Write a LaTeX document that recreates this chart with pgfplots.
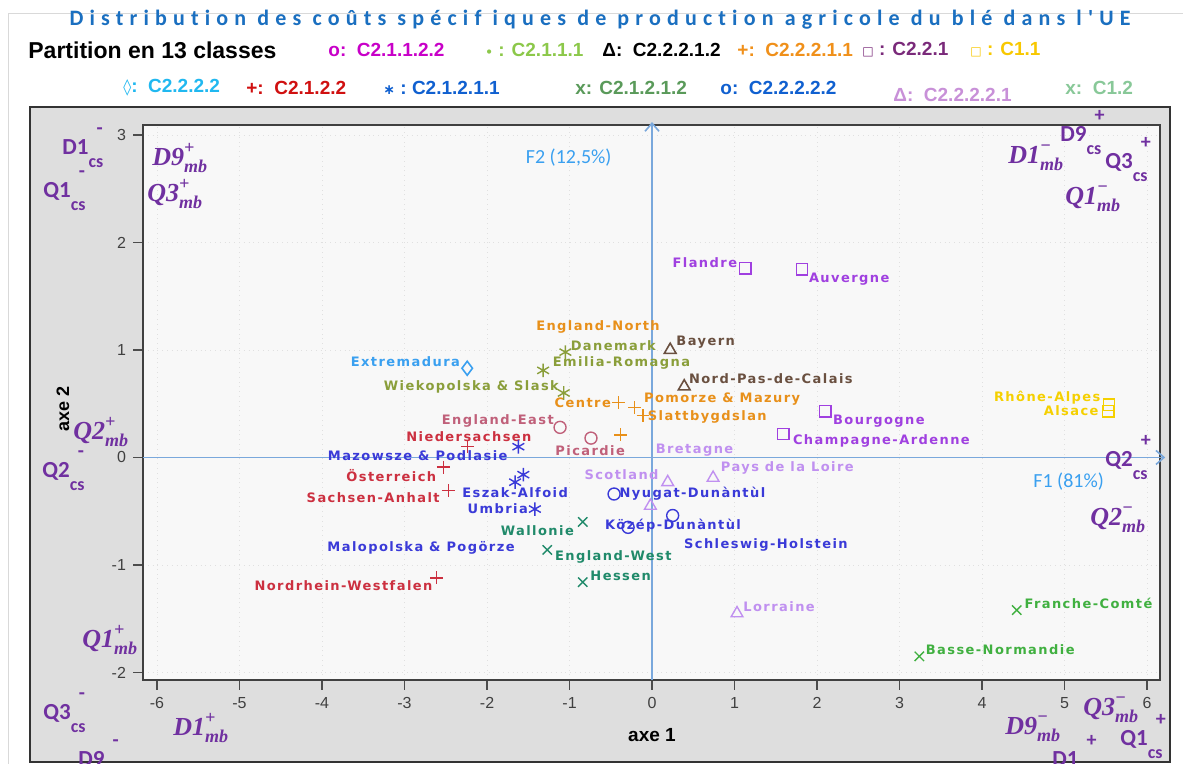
\documentclass[border=0pt]{standalone}
\usepackage{fontspec}
\setmainfont{Liberation Sans}
\usepackage{pgfplots}
\pgfplotsset{compat=1.18}
\usetikzlibrary{arrows.meta}
\newfontfamily\lblf[LetterSpace=11]{DejaVu Sans}
\newfontfamily\titlef[LetterSpace=28,Ligatures=NoCommon]{Carlito}
\newfontfamily\carl{Carlito}
\newfontfamily\serifbi{Liberation Serif}
\newfontfamily\dv{DejaVu Sans}

\definecolor{annot}{HTML}{7030A0}
\definecolor{panel}{HTML}{DEDEDE}
\definecolor{plotbg}{HTML}{F8F8F8}
\definecolor{axisblue}{HTML}{7AA8DC}
\definecolor{cPink}{HTML}{C0607A}
\definecolor{cOlive}{HTML}{8A9E3A}
\definecolor{cBrown}{HTML}{6A5040}
\definecolor{cOrange}{HTML}{E8901A}
\definecolor{cPurple}{HTML}{A040E0}
\definecolor{cYellow}{HTML}{F5D000}
\definecolor{cSky}{HTML}{3AA0F0}
\definecolor{cRed}{HTML}{CC3040}
\definecolor{cBlue}{HTML}{3A3AD8}
\definecolor{cTeal}{HTML}{208A6A}
\definecolor{cLav}{HTML}{C090F0}
\definecolor{cGreen}{HTML}{40B040}
\definecolor{cTitle}{HTML}{1A6FC0}
\definecolor{lMag}{HTML}{C800C8}
\definecolor{lLGreen}{HTML}{8CC84A}
\definecolor{lOrange}{HTML}{F0901A}
\definecolor{lPlum}{HTML}{7A2A7A}
\definecolor{lYellow}{HTML}{F8C800}
\definecolor{lCyan}{HTML}{20B8F0}
\definecolor{lRed}{HTML}{D01010}
\definecolor{lBlue}{HTML}{1060D0}
\definecolor{lGreen}{HTML}{5A9A5A}
\definecolor{lLav}{HTML}{C890D8}
\definecolor{lMint}{HTML}{88C898}

\newcommand{\lab}[4]{\node[text=#1,font=\lblf\bfseries\fontsize{6.5}{7}\selectfont,inner sep=0pt] at (axis cs:#2,#3) {#4};}
\newcommand{\csA}[2]{{\carl\bfseries\fontsize{11.5}{12}\selectfont #1\makebox[0pt][l]{\hspace{4pt}\raisebox{10pt}{\fontsize{10}{10}\selectfont #2}}\raisebox{-6.5pt}{\fontsize{9}{9}\selectfont cs}}}
\newcommand{\csB}[2]{{\carl\bfseries\fontsize{11.5}{12}\selectfont #1\makebox[0pt][l]{\hspace{4pt}\raisebox{10pt}{\fontsize{10}{10}\selectfont #2}}\raisebox{-6.5pt}{\fontsize{9}{9}\selectfont\color{black} cs}}}
\newcommand{\mbA}[2]{{\serifbi\bfseries\itshape\fontsize{13}{13}\selectfont #1\makebox[0pt][l]{\raisebox{6pt}{\fontsize{9}{9}\selectfont #2}}\raisebox{-3.5pt}{\fontsize{9}{9}\selectfont mb}}}

\begin{document}
\begin{tikzpicture}[x=0.5pt,y=0.5pt]
\useasboundingbox (0,0) rectangle (1183,764);
\fill[white] (0,0) rectangle (1183,764);
\draw[black!15] (8,0) -- (8,751) -- (1183,751);
% grey panel
\fill[panel] (30,2) rectangle (1170,657);
\draw[black!80,line width=1.2pt] (30,2) rectangle (1170,657);

\begin{axis}[
  at={(71.5pt,42pt)}, anchor=south west,
  x=41.25pt, y=53.75pt,
  xmin=-6.17, xmax=6.16, ymin=-2.07, ymax=3.09,
  axis background/.style={fill=plotbg},
  axis line style={draw=black!75, line width=1pt},
  xtick={-6,...,6}, ytick={-2,...,3},
  xticklabels={-6,-5,-4,-3,-2,-1,0,1,2,3,4,5,6},
  yticklabels={-2,-1,0,1,2,3},
  tick align=outside, major tick length=5pt,
  tick style={black!70, line width=0.9pt},
  tick pos=left,
  ticklabel style={font=\fontsize{8}{8}\selectfont, text=black!75},
  grid=major, major grid style={dotted, black!12},
  clip=false,
]
\draw[axisblue,line width=0.8pt,-{Straight Barb[length=4pt,width=7pt]}] (axis cs:-6.17,0) -- (axis cs:6.22,0);
\draw[axisblue,line width=0.8pt,-{Straight Barb[length=4pt,width=7pt]}] (axis cs:0,-2.07) -- (axis cs:0,3.12);

% C2.1.1.2.2
\addplot[only marks, mark=o, mark size=3pt, cPink, line width=0.7pt] coordinates {(-1.115,0.28) (-0.74,0.18)};
% C2.1.1.1
\addplot[only marks, mark=asterisk, mark size=3.4pt, cOlive, line width=0.7pt] coordinates {(-1.05,0.98) (-1.32,0.81) (-1.07,0.60)};
% C2.2.2.1.2
\addplot[only marks, mark=triangle, mark size=3.4pt, cBrown, line width=0.8pt] coordinates {(0.22,1.00) (0.39,0.66)};
% C2.2.2.1.1
\addplot[only marks, mark=+, mark size=3.2pt, cOrange, line width=0.7pt] coordinates {(-0.41,0.51) (-0.21,0.465) (-0.11,0.39) (-0.38,0.21)};
% C2.2.1
\addplot[only marks, mark=square, mark size=2.8pt, cPurple, line width=0.7pt] coordinates {(1.13,1.76) (1.82,1.75) (2.10,0.43) (1.59,0.22)};
% C1.1
\addplot[only marks, mark=square, mark size=2.8pt, cYellow, line width=0.7pt] coordinates {(5.54,0.49) (5.53,0.43)};
% C2.2.2.2
\addplot[only marks, mark=diamond, mark size=3.5pt, cSky, line width=0.8pt] coordinates {(-2.24,0.83)};
% C2.1.2.2
\addplot[only marks, mark=+, mark size=3.2pt, cRed, line width=0.7pt] coordinates {(-2.24,0.10) (-2.53,-0.09) (-2.47,-0.31) (-2.61,-1.12)};
% C2.1.2.1.1
\addplot[only marks, mark=asterisk, mark size=3.4pt, cBlue, line width=0.7pt] coordinates {(-1.62,0.10) (-1.56,-0.16) (-1.66,-0.23) (-1.42,-0.48)};
% C2.1.2.1.2
\addplot[only marks, mark=x, mark size=3.3pt, cTeal, line width=0.7pt] coordinates {(-0.84,-0.60) (-1.27,-0.86) (-0.84,-1.16)};
% C2.2.2.2.2
\addplot[only marks, mark=o, mark size=3pt, cBlue, line width=0.7pt] coordinates {(-0.46,-0.34) (0.25,-0.54) (-0.29,-0.65)};
% C2.2.2.2.1
\addplot[only marks, mark=triangle, mark size=3.4pt, cLav, line width=0.7pt] coordinates {(0.19,-0.23) (0.74,-0.19) (-0.02,-0.45) (1.03,-1.45)};
% C1.2
\addplot[only marks, mark=x, mark size=3.3pt, cGreen, line width=0.7pt] coordinates {(4.42,-1.42) (3.24,-1.85)};

% labels
\lab{cOrange}{-0.655}{1.21}{England-North}
\lab{cOlive}{-0.47}{1.04}{Danemark}
\lab{cOlive}{-0.37}{0.88}{Emilia-Romagna}
\lab{cSky}{-2.99}{0.89}{Extremadura}
\lab{cOlive}{-2.19}{0.66}{Wiekopolska \& Slask}
\lab{cOrange}{-0.84}{0.51}{Centre}
\lab{cOrange}{0.85}{0.54}{Pomorze \& Mazury}
\lab{cOrange}{0.67}{0.38}{Slattbygdslan}
\lab{cBrown}{0.65}{1.07}{Bayern}
\lab{cBrown}{1.44}{0.73}{Nord-Pas-de-Calais}
\lab{cPurple}{0.64}{1.81}{Flandre}
\lab{cPurple}{2.39}{1.66}{Auvergne}
\lab{cPurple}{2.75}{0.34}{Bourgogne}
\lab{cPurple}{2.78}{0.15}{Champagne-Ardenne}
\lab{cYellow}{4.79}{0.56}{Rhône-Alpes}
\lab{cYellow}{5.08}{0.44}{Alsace}
\lab{cPink}{-1.87}{0.34}{England-East}
\lab{cRed}{-2.22}{0.195}{Niedersachsen}
\lab{cPink}{-0.75}{0.065}{Picardie}
\lab{cLav}{0.515}{0.065}{Bretagne}
\lab{cBlue}{-2.84}{0.02}{Mazowsze \& Podlasie}
\lab{cRed}{-3.16}{-0.17}{Österreich}
\lab{cLav}{-0.37}{-0.16}{Scotland}
\lab{cLav}{1.64}{-0.10}{Pays de la Loire}
\lab{cRed}{-3.38}{-0.37}{Sachsen-Anhalt}
\lab{cBlue}{-1.66}{-0.33}{Eszak-Alfoid}
\lab{cBlue}{0.49}{-0.34}{Nyugat-Dunàntùl}
\lab{cBlue}{-1.87}{-0.48}{Umbria}
\lab{cTeal}{-1.39}{-0.68}{Wallonie}
\lab{cBlue}{0.255}{-0.63}{Közép-Dunàntùl}
\lab{cBlue}{1.38}{-0.81}{Schleswig-Holstein}
\lab{cBlue}{-2.80}{-0.84}{Malopolska \& Pogörze}
\lab{cTeal}{-0.47}{-0.93}{England-West}
\lab{cTeal}{-0.38}{-1.10}{Hessen}
\lab{cRed}{-3.74}{-1.19}{Nordrhein-Westfalen}
\lab{cLav}{1.54}{-1.39}{Lorraine}
\lab{cGreen}{5.29}{-1.36}{Franche-Comté}
\lab{cGreen}{4.22}{-1.79}{Basse-Normandie}
\node[text=cSky,font=\carl\fontsize{10}{10}\selectfont] at (axis cs:5.05,-0.22) {F1 (81\%)};
\node[text=cSky,font=\carl\fontsize{10}{10}\selectfont] at (axis cs:-1.01,2.79) {F2 (12,5\%)};
\end{axis}

% axis titles
\node[font=\bfseries\fontsize{9.5}{10}\selectfont] at (652,29) {axe 1};
\node[font=\bfseries\fontsize{9}{10}\selectfont,rotate=90] at (63,355) {axe 2};

% title and class legend
\node[text=cTitle,font=\titlef\bfseries\fontsize{11}{11}\selectfont] at (600,744) {Distribution des coûts spécif iques de production agricole du blé dans l'UE};
\begin{scope}[every node/.style={anchor=west,inner sep=0pt,font=\bfseries\fontsize{9.5}{9.5}\selectfont}]
\node[font=\bfseries\fontsize{11.5}{12}\selectfont] at (28,714) {Partition en 13 classes};
\node[text=lMag] at (328,714) {o:\ \ C2.1.1.2.2};
\node[text=lLGreen] at (485,714) {{\dv\fontsize{6}{6}\selectfont •} : C2.1.1.1};
\node[text=black] at (602,714) {Δ:\ \ C2.2.2.1.2};
\node[text=lOrange] at (737,714) {+:\ \ C2.2.2.1.1};
\node[text=lPlum] at (862,714) {{\dv\fontsize{6}{6}\selectfont □} : C2.2.1};
\node[text=lYellow] at (970,714) {{\dv\fontsize{6}{6}\selectfont □} : C1.1};
\node[text=lCyan] at (123,676) {{\dv\fontsize{8}{8}\selectfont ◊}:\ \ C2.2.2.2};
\node[text=lRed] at (246,676) {+:\ \ C2.1.2.2};
\node[text=lBlue] at (383,676) {{\dv\fontsize{7}{7}\selectfont ∗} :\ C2.1.2.1.1};
\node[text=lGreen] at (575,676) {x: C2.1.2.1.2};
\node[text=lBlue] at (720,676) {o:\ \ C2.2.2.2.2};
\node[text=lLav] at (893,669) {Δ:\ \ C2.2.2.2.1};
\node[text=lMint] at (1065,676) {x:\ \ C1.2};
\end{scope}

% annotations
\begin{scope}[every node/.style={anchor=base west,inner sep=0pt,text=annot}]
\node at (62,609) {\csA{D1}{-}};
\node at (43,566) {\csA{Q1}{-}};
\node at (152,598) {\mbA{D9}{+}};
\node at (147,562) {\mbA{Q3}{+}};
\node at (73,324) {\mbA{Q2}{+}};
\node at (42,286) {\csA{Q2}{-}};
\node at (82,116) {\mbA{Q1}{+}};
\node at (43,44) {\csA{Q3}{-}};
\node at (173,28) {\mbA{D1}{+}};
\node at (78,-3) {\csB{D9}{-}};
\node at (1060,622) {\csA{D9}{+}};
\node at (1008,600) {\mbA{D1}{−}};
\node at (1105,595) {\csA{Q3}{+}};
\node at (1065,559) {\mbA{Q1}{−}};
\node at (1105,297) {\csA{Q2}{+}};
\node at (1090,238) {\mbA{Q2}{−}};
\node at (1083,48) {\mbA{Q3}{−}};
\node at (1005,29) {\mbA{D9}{−}};
\node at (1052,-3) {\csA{D1}{+}};
\node at (1120,18) {\csA{Q1}{+}};
\end{scope}
\end{tikzpicture}
\end{document}
